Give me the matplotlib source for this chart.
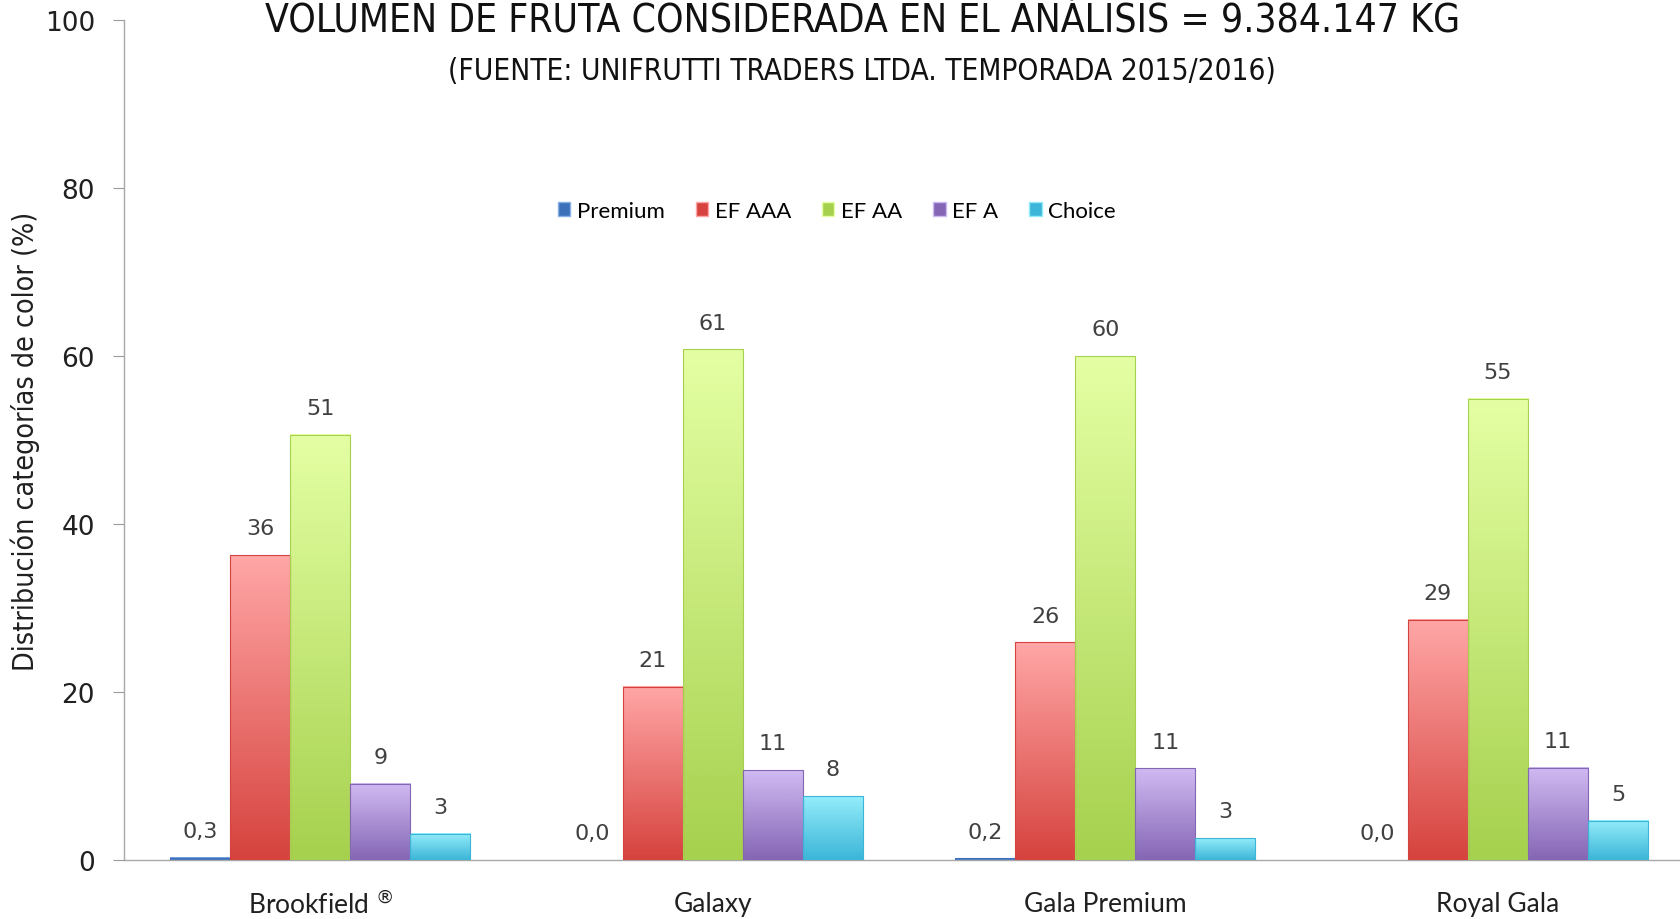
import numpy as np
import matplotlib
matplotlib.use("Agg")
import matplotlib.pyplot as plt
from matplotlib.patches import Patch
from matplotlib.colors import LinearSegmentedColormap

variedades = ["Brookfield $^{®}$", "Galaxy", "Gala Premium", "Royal Gala"]
categorias = ["Premium", "EF AAA", "EF AA", "EF A", "Choice"]
premium = [0.3, 0.0, 0.2, 0.0]
ef_aaa = [36.3, 20.6, 25.9, 28.6]
ef_aa = [50.6, 60.8, 60.0, 54.9]
ef_a = [9.1, 10.7, 10.9, 11.0]
choice = [3.1, 7.6, 2.6, 4.7]
series = [premium, ef_aaa, ef_aa, ef_a, choice]
decimales = [1, 0, 0, 0, 0]

# (arriba, abajo) para el degradado de cada serie
colores = [("#86B0E6", "#3C70B8"),
           ("#FFA6A6", "#D6433E"),
           ("#E4FFA3", "#A6D14E"),
           ("#D0BAF2", "#8566B5"),
           ("#93ECFA", "#3CB6D8")]

fig = plt.figure(figsize=(16.81, 9.20), dpi=100)
ax = fig.add_axes([0.0738, 0.0641, 0.934, 0.913])

n = len(series)
ancho = 0.153
x = np.arange(len(variedades))

for i, vals in enumerate(series):
    pos = x + (i - (n - 1) / 2) * ancho
    top, bot = colores[i]
    cmap = LinearSegmentedColormap.from_list("g%d" % i, [bot, top])
    bars = ax.bar(pos, vals, ancho, color=bot, edgecolor="none", zorder=2)
    for b, v in zip(bars, vals):
        if b.get_height() > 0:
            grad = np.linspace(1, 0, 100).reshape(-1, 1)
            ax.imshow(grad, cmap=cmap, vmin=0, vmax=1, aspect="auto",
                      extent=[b.get_x(), b.get_x() + b.get_width(), 0, b.get_height()],
                      zorder=3, interpolation="bicubic")
            ax.bar(b.get_x() + b.get_width() / 2, b.get_height(), b.get_width(),
                   color="none", edgecolor=bot, linewidth=0.8, zorder=4)
        etiqueta = "{:.{d}f}".format(v, d=decimales[i]).replace(".", ",")
        ax.text(b.get_x() + b.get_width() / 2, v + 2.0, etiqueta, ha="center",
                va="bottom", fontsize=16, color="#404040", family="DejaVu Sans")

ax.set_xlim(-0.5, len(variedades) - 0.5)
ax.set_ylim(0, 100)
ax.set_yticks(range(0, 101, 20))
ax.tick_params(axis="y", labelsize=19, colors="#9A9A9A", labelcolor="#202020",
               length=8, direction="out", pad=13)
ax.set_xticks(x)
ax.set_xticklabels(variedades, fontsize=19, family="Lato", color="#202020")
ax.tick_params(axis="x", length=0, pad=22)
for s in ["top", "right"]:
    ax.spines[s].set_visible(False)
for s in ["left", "bottom"]:
    ax.spines[s].set_color("#A8A8A8")
    ax.spines[s].set_linewidth(1.0)

ax.set_ylabel("Distribución categorías de color (%)", fontsize=20.5,
              family="DejaVu Sans", fontstretch="condensed", color="#202020",
              labelpad=3)

fig.text(0.513, 0.977, "VOLUMEN DE FRUTA CONSIDERADA EN EL ANÁLISIS = 9.384.147 KG",
         ha="center", va="center", fontsize=28, family="DejaVu Sans",
         fontstretch="condensed", color="#111111")
fig.text(0.513, 0.922, "(FUENTE: UNIFRUTTI TRADERS LTDA. TEMPORADA 2015/2016)",
         ha="center", va="center", fontsize=21.3, family="DejaVu Sans",
         fontstretch="condensed", color="#111111")

handles = [Patch(facecolor=c[1], edgecolor=c[0], label=l)
           for c, l in zip(colores, categorias)]
ax.legend(handles=handles, ncol=5, loc="center", bbox_to_anchor=(0.454, 0.773),
          frameon=False, handlelength=0.55, handleheight=0.55,
          handletextpad=0.3, columnspacing=1.4, prop={"family": "Lato", "size": 16})

fig.savefig("out.png", dpi=100)
